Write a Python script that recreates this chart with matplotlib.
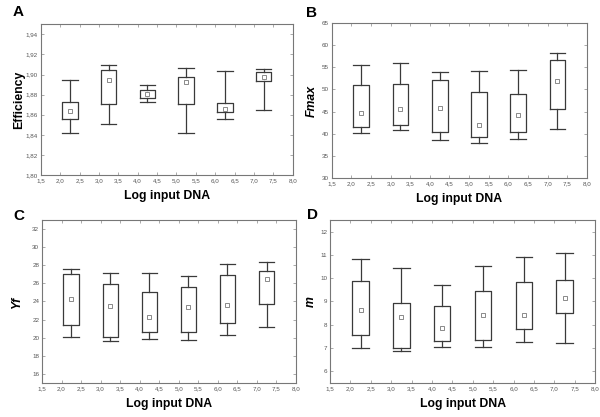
import matplotlib
matplotlib.use('Agg')
import matplotlib.pyplot as plt
from matplotlib.ticker import FuncFormatter

plt.rcParams['font.family'] = ['Liberation Sans', 'DejaVu Sans']

x_pos = [2.25, 3.25, 4.25, 5.25, 6.25, 7.25]

# A - Efficiency
eff_whislo = [1.842, 1.851, 1.873, 1.842, 1.856, 1.865]
eff_q1 = [1.856, 1.871, 1.877, 1.871, 1.863, 1.894]
eff_q3 = [1.873, 1.904, 1.885, 1.898, 1.872, 1.902]
eff_whishi = [1.895, 1.909, 1.890, 1.906, 1.903, 1.905]
eff_mean = [1.864, 1.895, 1.881, 1.893, 1.866, 1.898]

# B - Fmax
fmax_whislo = [40.2, 40.8, 38.6, 37.9, 38.7, 41.1]
fmax_q1 = [41.5, 42.0, 40.5, 39.3, 40.4, 45.6]
fmax_q3 = [51.1, 51.3, 52.1, 49.4, 48.9, 56.6]
fmax_whishi = [55.6, 56.0, 53.9, 54.2, 54.4, 58.2]
fmax_mean = [44.7, 45.6, 45.9, 42.0, 44.3, 52.0]

# C - Yf
yf_whislo = [20.05, 19.65, 19.9, 19.7, 20.3, 21.2]
yf_q1 = [21.4, 20.1, 20.6, 20.6, 21.6, 23.7]
yf_q3 = [27.0, 25.9, 25.0, 25.6, 26.9, 27.4]
yf_whishi = [27.55, 27.2, 27.1, 26.8, 28.1, 28.4]
yf_mean = [24.3, 23.5, 22.3, 23.4, 23.65, 26.5]

# D - m
m_whislo = [7.0, 6.89, 7.03, 7.03, 7.28, 7.23]
m_q1 = [7.54, 7.0, 7.29, 7.36, 7.82, 8.50]
m_q3 = [9.86, 8.94, 8.80, 9.47, 9.85, 9.92]
m_whishi = [10.84, 10.44, 9.69, 10.52, 10.91, 11.08]
m_mean = [8.63, 8.35, 7.88, 8.41, 8.41, 9.13]

comma = FuncFormatter(lambda v, p: ('%.1f' % v).replace('.', ','))
comma2 = FuncFormatter(lambda v, p: ('%.2f' % v).replace('.', ','))
intfmt = FuncFormatter(lambda v, p: '%d' % v)

fig = plt.figure(figsize=(6, 4.17), dpi=100)

# letter, ylabel, style, axes rect, ylim, yticks, formatter, letter pos (fig px), ylabel right edge (fig px)
panels = [
    ('A', 'Efficiency', 'normal', [0.068, 0.580, 0.420, 0.362], (1.80, 1.95), [1.80 + 0.02 * i for i in range(8)], comma2,
     (13, 5), 25, eff_whislo, eff_q1, eff_q3, eff_whishi, eff_mean),
    ('B', 'Fmax', 'italic', [0.553, 0.573, 0.425, 0.372], (30, 65), list(range(30, 66, 5)), intfmt,
     (306, 6), 318, fmax_whislo, fmax_q1, fmax_q3, fmax_whishi, fmax_mean),
    ('C', 'Yf', 'italic', [0.070, 0.0815, 0.423, 0.391], (15, 33), list(range(16, 33, 2)), intfmt,
     (13, 209), 23, yf_whislo, yf_q1, yf_q3, yf_whishi, yf_mean),
    ('D', 'm', 'italic', [0.550, 0.0815, 0.442, 0.391], (5.5, 12.5), list(range(6, 13)), intfmt,
     (307, 208), 317, m_whislo, m_q1, m_q3, m_whishi, m_mean),
]

W, H = 600.0, 417.0
for letter, ylab, style, rect, ylim, yticks, yfmt, lpos, ylx, wlo, q1, q3, whi, mn in panels:
    ax = fig.add_axes(rect)
    stats = []
    for i in range(len(x_pos)):
        stats.append({'med': mn[i], 'q1': q1[i], 'q3': q3[i], 'whislo': wlo[i],
                      'whishi': whi[i], 'mean': mn[i], 'fliers': []})
    ax.bxp(stats, positions=x_pos, widths=0.4, capwidths=0.4, showmeans=True,
           boxprops=dict(color='#3a3a3a', linewidth=0.9),
           whiskerprops=dict(color='#3a3a3a', linewidth=0.9),
           capprops=dict(color='#3a3a3a', linewidth=0.9),
           medianprops=dict(linewidth=0),
           meanprops=dict(marker='s', markerfacecolor='white', markeredgecolor='#777777',
                          markersize=3, markeredgewidth=0.6),
           manage_ticks=False)
    ax.set_xlim(1.5, 8.0)
    ax.set_xticks([1.5 + 0.5 * i for i in range(14)])
    ax.xaxis.set_major_formatter(comma)
    ax.set_ylim(*ylim)
    ax.set_yticks(yticks)
    ax.yaxis.set_major_formatter(yfmt)
    ax.tick_params(labelsize=4.5, labelcolor='#555555', length=2, width=0.5, color='#888888',
                   direction='in', top=True, right=True, pad=2)
    for s in ax.spines.values():
        s.set_color('#777777')
        s.set_linewidth(0.8)
    ax.set_xlabel('Log input DNA', fontsize=8.8, fontweight='bold', labelpad=5)
    ax.set_ylabel(ylab, fontsize=8.8, fontweight='bold', fontstyle=style)
    ax.yaxis.set_label_coords((ylx / W - rect[0]) / rect[2], 0.5)
    fig.text(lpos[0] / W, 1 - lpos[1] / H, letter, fontsize=11, fontweight='bold',
             va='top', ha='left')

fig.savefig('out.png', dpi=100)
